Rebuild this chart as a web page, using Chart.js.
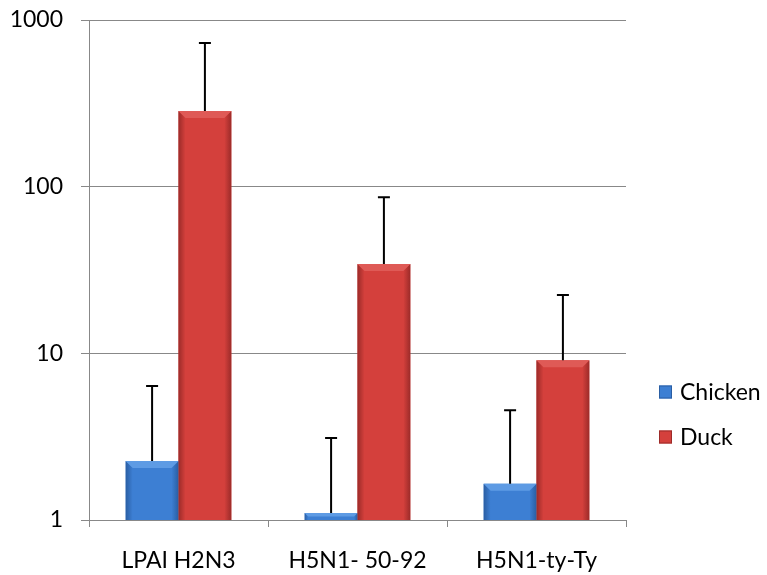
<!DOCTYPE html>
<html>
<head>
<meta charset="utf-8">
<script src="https://cdn.jsdelivr.net/npm/chart.js@4/dist/chart.umd.min.js"></script>
<style>
  html, body { margin: 0; background: #fff; }
  #wrap { width: 767px; height: 575px; }
</style>
</head>
<body>
<div id="wrap"><canvas id="chart"></canvas></div>
<script>
// valores (escala log)
const categories = ['LPAI H2N3', 'H5N1- 50-92', 'H5N1-ty-Ty'];
const chicken    = [2.26, 1.10, 1.65];
const chickenErr = [4.1, 2.0, 2.9];
const duck       = [284, 34.3, 9.1];
const duckErr    = [443, 52, 13.3];
const yTicks     = [1, 10, 100, 1000];

const FONT = { family: 'Lato', size: 23 };
const GRID = '#888888';

const palette = {
  Chicken: { fill: '#3d7fd3', light: '#5e9be4', dark: '#2a5ea3' },
  Duck:    { fill: '#d4403c', light: '#df5a56', dark: '#9c2b29' },
};

// bisel de las barras (aspecto 3D de Excel)
const bevelPlugin = {
  id: 'bevel',
  afterDatasetsDraw(chart) {
    const ctx = chart.ctx;
    chart.data.datasets.forEach((ds, i) => {
      const c = palette[ds.label];
      chart.getDatasetMeta(i).data.forEach(el => {
        const { x, y, width, base } = el.getProps(['x', 'y', 'width', 'base'], true);
        const l = x - width / 2, r = x + width / 2;
        const b = Math.min(7, (base - y) / 2);
        ctx.save();
        let g = ctx.createLinearGradient(l, 0, l + b, 0);
        g.addColorStop(0, c.dark); g.addColorStop(1, c.fill);
        ctx.fillStyle = g;
        ctx.beginPath();
        ctx.moveTo(l, y); ctx.lineTo(l + b, y + b); ctx.lineTo(l + b, base); ctx.lineTo(l, base);
        ctx.fill();
        g = ctx.createLinearGradient(r, 0, r - b, 0);
        g.addColorStop(0, c.dark); g.addColorStop(1, c.fill);
        ctx.fillStyle = g;
        ctx.beginPath();
        ctx.moveTo(r, y); ctx.lineTo(r - b, y + b); ctx.lineTo(r - b, base); ctx.lineTo(r, base);
        ctx.fill();
        ctx.fillStyle = c.light;
        ctx.beginPath();
        ctx.moveTo(l, y); ctx.lineTo(r, y); ctx.lineTo(r - b, y + b); ctx.lineTo(l + b, y + b);
        ctx.fill();
        ctx.restore();
      });
    });
  },
};

// barras de error (solo hacia arriba)
const errorPlugin = {
  id: 'errors',
  afterDatasetsDraw(chart) {
    const ctx = chart.ctx;
    const ys = chart.scales.y;
    chart.data.datasets.forEach((ds, i) => {
      chart.getDatasetMeta(i).data.forEach((el, j) => {
        const top = ys.getPixelForValue(ds.data[j] + ds.errors[j]);
        ctx.save();
        ctx.strokeStyle = '#000';
        ctx.lineWidth = 2;
        ctx.beginPath();
        ctx.moveTo(el.x, el.y);
        ctx.lineTo(el.x, top);
        ctx.moveTo(el.x - 6, top);
        ctx.lineTo(el.x + 6, top);
        ctx.stroke();
        ctx.restore();
      });
    });
  },
};

// leyenda a la derecha, a mano
const legendPlugin = {
  id: 'sideLegend',
  afterDraw(chart) {
    const ctx = chart.ctx;
    const items = [['Chicken', 392], ['Duck', 437]];
    ctx.save();
    ctx.font = `${FONT.size}px ${FONT.family}`;
    ctx.textBaseline = 'middle';
    items.forEach(([name, cy]) => {
      const c = palette[name];
      ctx.fillStyle = c.fill;
      ctx.fillRect(659, cy - 6.5, 13, 13);
      ctx.strokeStyle = c.dark;
      ctx.lineWidth = 1;
      ctx.strokeRect(659.5, cy - 6, 12, 12);
      ctx.fillStyle = '#000';
      ctx.fillText(name, 680, cy + 1);
    });
    ctx.restore();
  },
};

new Chart(document.getElementById('chart'), {
  type: 'bar',
  data: {
    labels: categories,
    datasets: [
      { label: 'Chicken', data: chicken, errors: chickenErr, backgroundColor: palette.Chicken.fill },
      { label: 'Duck',    data: duck,    errors: duckErr,    backgroundColor: palette.Duck.fill },
    ],
  },
  options: {
    responsive:          true,
    maintainAspectRatio: false,
    animation:           false,
    categoryPercentage:  0.59,
    barPercentage:       1.0,
    layout: { padding: { top: 20, right: 141, left: 0, bottom: 0 } },
    plugins: {
      legend:  { display: false },
      tooltip: { enabled: false },
    },
    scales: {
      x: {
        afterFit: s => { s.height = 55; s.paddingLeft = 0; s.paddingRight = 0; },
        ticks:  { color: '#000', font: FONT, padding: 20, maxRotation: 0 },
        grid:   { drawOnChartArea: false, color: GRID, tickLength: 7 },
        border: { color: GRID },
      },
      y: {
        type: 'logarithmic',
        min: 1,
        max: 1000,
        afterFit: s => { s.width = 89; s.paddingTop = 0; s.paddingBottom = 0; },
        afterBuildTicks: s => { s.ticks = yTicks.map(v => ({ value: v })); },
        ticks:  { color: '#000', font: FONT, padding: 18, callback: v => String(v) },
        grid:   { color: GRID, tickLength: 8 },
        border: { color: GRID },
      },
    },
  },
  plugins: [bevelPlugin, errorPlugin, legendPlugin],
});
</script>
</body>
</html>
